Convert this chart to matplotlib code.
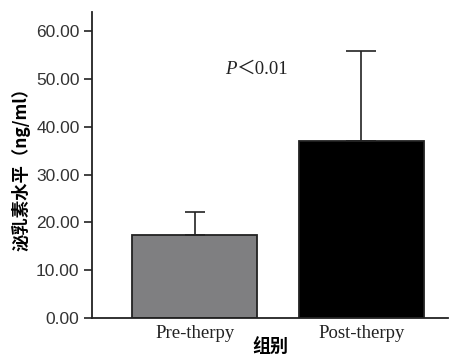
import matplotlib
matplotlib.use("Agg")
import matplotlib.pyplot as plt

categories = ["Pre-therpy", "Post-therpy"]
means = [17.4, 37.1]
errors = [4.8, 18.7]
bar_colors = ["#7f7f81", "#000000"]
yticks = [0, 10, 20, 30, 40, 50, 60]
ytick_labels = ["0.00", "10.00", "20.00", "30.00", "40.00", "50.00", "60.00"]

fig = plt.figure(figsize=(4.49, 3.58), dpi=100)
ax = fig.add_axes([0.205, 0.112, 0.793, 0.854])

x = list(range(len(categories)))
ax.bar(x, means, width=0.75, color=bar_colors, edgecolor="#222222", linewidth=1.3, zorder=2)
capsizes = [7.5, 11]
for xi, m, e, cs in zip(x, means, errors, capsizes):
    ax.errorbar([xi], [m + e / 2], yerr=[[e / 2], [e / 2]], fmt="none", ecolor="#222222",
                elinewidth=1.2, capsize=cs, capthick=1.2, zorder=3)

ax.set_xlim(-0.616, 1.52)
ax.set_ylim(0, 64)
ax.set_yticks(yticks)
ax.set_yticklabels(ytick_labels, fontsize=12.5, color="#333333", family="Liberation Sans")
ax.set_xticks(x)
ax.set_xticklabels(categories, fontsize=13.5, family="Liberation Serif", color="#222222")
ax.tick_params(axis="x", direction="in", length=6, width=1.2, color="#222222", pad=5, zorder=5)
ax.tick_params(axis="y", direction="out", length=6, width=1.2, color="#222222", pad=3)
for s in ["top", "right"]:
    ax.spines[s].set_visible(False)
for s in ["left", "bottom"]:
    ax.spines[s].set_linewidth(1.3)
    ax.spines[s].set_color("#222222")

ax.set_ylabel("泌乳素水平（ng/ml）", family=["Noto Sans CJK SC", "DejaVu Sans"], fontweight="bold",
              fontsize=12.5, labelpad=4)
ax.set_xlabel("组别", family=["Noto Sans CJK SC", "DejaVu Sans"], fontweight="bold",
              fontsize=13, labelpad=-3)

ax.text(0.183, 52.1, "P", ha="left", va="center", fontsize=13.5, style="italic",
        family="Liberation Serif", color="#222222")
ax.text(0.245, 52.1, "＜0.01", ha="left", va="center", fontsize=13.5,
        family=["Liberation Serif", "Noto Sans CJK SC"], color="#222222")

fig.savefig("out.png", dpi=100)
